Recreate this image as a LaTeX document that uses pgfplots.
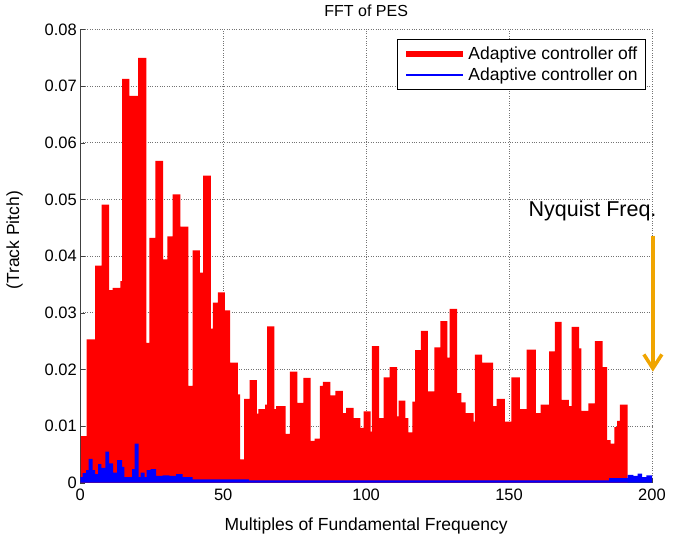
\documentclass[border=0pt]{standalone}
\usepackage{fontspec}
\setmainfont{Liberation Sans}
\usepackage{pgfplots}
\pgfplotsset{compat=1.18}
\usetikzlibrary{arrows.meta,calc}
\definecolor{nyq}{RGB}{240,165,0}

\begin{document}
\begin{tikzpicture}
\begin{axis}[
  name=ax,
  scale only axis,
  width=571.7pt, height=453.2pt,
  xmin=0, xmax=200, ymin=0, ymax=0.08,
  xtick={0,50,100,150,200},
  ytick={0,0.01,0.02,0.03,0.04,0.05,0.06,0.07,0.08},
  scaled y ticks=false,
  yticklabel style={/pgf/number format/fixed,/pgf/number format/precision=2},
  xticklabel style={yshift=-3pt},
  /pgf/number format/assume math mode=true,
  tick label style={font=\fontsize{16.5}{19}\selectfont},
  axis lines*=left,
  axis line style={black!75, line width=0.8pt},
  tick align=inside,
  major tick length=5pt,
  tick style={black!75},
  grid=major,
  major grid style={dotted, line width=0.8pt, black!55},
  clip=false,
  title={FFT of PES},
  every axis title shift=0pt,
  title style={font=\fontsize{16}{19}\selectfont, at={(axis description cs:0.5,1)}, anchor=base, yshift=12.8pt},
  xlabel={Multiples of Fundamental Frequency},
  xlabel style={font=\fontsize{17.5}{20}\selectfont, at={(axis description cs:0.5,0)}, anchor=base, yshift=-47.3pt},
  ylabel={(Track Pitch)},
  ylabel style={font=\fontsize{17.5}{20}\selectfont, at={(axis description cs:-0.107,0.535)}, anchor=base},
  legend style={font=\fontsize{17.5}{21}\selectfont, at={(axis description cs:0.9895,0.978)}, anchor=north east,
    draw=black, line width=0.6pt, fill=white, inner xsep=6pt, inner ysep=5pt, row sep=3pt},
  legend cell align={left},
  legend image code/.code={\draw[#1] (0pt,0pt) -- (57pt,0pt);},
]
% Adaptive controller off
\addplot[const plot mark left, fill=red, draw=none, forget plot] coordinates {
  (0.2,0.0082) (2.2,0.0253) (5.2,0.0383) (7.5,0.0491) (10.1,0.0340) (11.3,0.0344)
  (14.0,0.0356) (14.6,0.0713) (17.2,0.0683) (20.2,0.0750) (23.1,0.0247) (24.2,0.0432)
  (26.3,0.0568) (29.0,0.0394) (30.5,0.0435) (32.3,0.0509) (35.0,0.0452) (37.8,0.0171)
  (39.3,0.0410) (41.8,0.0371) (43.0,0.0542) (45.7,0.0272) (46.4,0.0318) (48.1,0.0336)
  (50.6,0.0304) (52.4,0.0212) (55.1,0.0156) (55.9,0.0041) (57.3,0.0148) (59.2,0.0181)
  (61.8,0.0122) (62.3,0.0130) (64.7,0.0138) (65.4,0.0276) (67.9,0.0130) (68.5,0.0135)
  (71.8,0.0086) (73.3,0.0196) (75.9,0.0141) (78.0,0.0185) (80.6,0.0074) (82.0,0.0078)
  (83.8,0.0171) (84.9,0.0178) (87.5,0.0154) (89.2,0.0162) (91.9,0.0123) (93.0,0.0132)
  (95.6,0.0114) (98.0,0.0097) (99.1,0.0126) (101.6,0.0090) (102.0,0.0241) (104.5,0.0114)
  (106.1,0.0186) (108.2,0.0204) (110.8,0.0117) (111.4,0.0145) (113.7,0.0114) (114.8,0.0089)
  (116.2,0.0143) (117.1,0.0234) (119.1,0.0268) (121.6,0.0161) (123.9,0.0239) (126.0,0.0285)
  (128.4,0.0221) (129.2,0.0307) (131.8,0.0158) (133.3,0.0142) (134.8,0.0123) (137.6,0.0108)
  (138.0,0.0226) (140.6,0.0212) (144.4,0.0135) (145.6,0.0148) (148.5,0.0108) (150.8,0.0186)
  (153.8,0.0130) (156.1,0.0235) (159.4,0.0123) (161.0,0.0138) (164.0,0.0232) (166.0,0.0284)
  (168.4,0.0146) (170.9,0.0135) (171.9,0.0275) (174.5,0.0237) (175.3,0.0127) (177.7,0.0140)
  (180.0,0.0250) (182.7,0.0204) (184.3,0.0075) (185.5,0.0069) (186.8,0.0098) (187.8,0.0109)
  (188.8,0.0138) (191.5,0)
} \closedcycle;
% Adaptive controller on
\addplot[const plot mark left, fill=blue, draw=none, forget plot] coordinates {
  (0,0.0010) (0.8,0.0017) (2.0,0.0022) (2.9,0.0042) (4.3,0.0022) (5.2,0.0015)
  (6.2,0.0033) (7.4,0.0026) (8.8,0.0055) (10.1,0.0034) (11.5,0.0018) (12.9,0.0040)
  (14.6,0.0028) (15.4,0.0010) (18.1,0.0024) (19.0,0.0069) (20.4,0.0010) (21.1,0.0018)
  (22.5,0.0010) (23.2,0.0022) (24.6,0.0024) (26.5,0.0012) (28.8,0.0013) (31.2,0.0012)
  (33.5,0.0015) (35.8,0.0010) (39.3,0.0006) (59.0,0.0004) (185.0,0.0008) (191.5,0.0014)
  (193.5,0.0012) (195.0,0.0016) (196.5,0.0010) (198.0,0.0013) (200.0,0)
} \closedcycle;
\addlegendimage{red, line width=6pt}
\addlegendentry{Adaptive controller off}
\addlegendimage{blue, line width=2.5pt}
\addlegendentry{Adaptive controller on}
% Nyquist annotation
\node[font=\fontsize{21.5}{24}\selectfont, anchor=base] at (axis cs:179.2,0.0470) {Nyquist Freq.};
\draw[nyq, line width=3.5pt, -{Straight Barb[length=14pt,width=18pt]}] (axis cs:200.3,0.0436) -- (axis cs:200.3,0.0196);
\end{axis}
\pgfresetboundingbox
\path[use as bounding box] ($(ax.south west)+(-80.3pt,-52.3pt)$) rectangle +(687pt,535pt);
\end{tikzpicture}
\end{document}
